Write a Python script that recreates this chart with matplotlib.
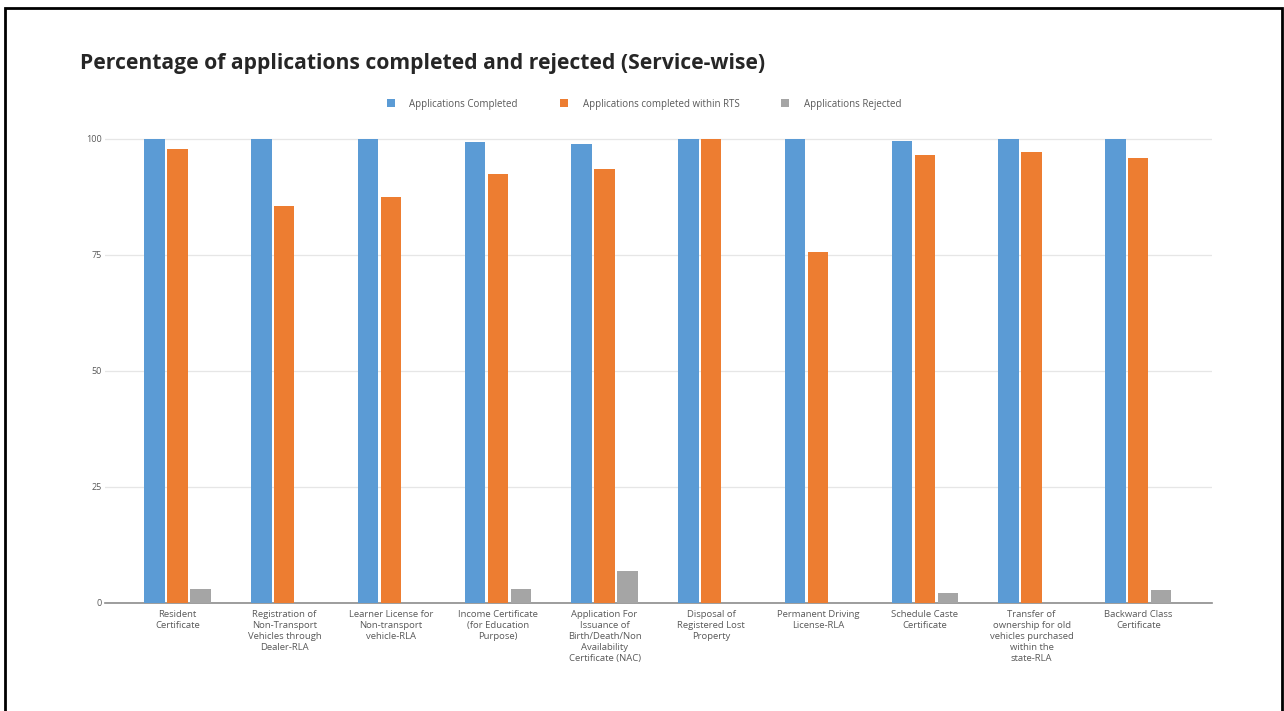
import numpy as np
import matplotlib
matplotlib.use('Agg')
from matplotlib import pyplot as plt
from matplotlib.patches import Rectangle


services = [
    'Resident\nCertificate',
    'Registration of\nNon-Transport\nVehicles through\nDealer-RLA',
    'Learner License for\nNon-transport\nvehicle-RLA',
    'Income Certificate\n(for Education\nPurpose)',
    'Application For\nIssuance of\nBirth/Death/Non\nAvailability\nCertificate (NAC)',
    'Disposal of\nRegistered Lost\nProperty',
    'Permanent Driving\nLicense-RLA',
    'Schedule Caste\nCertificate',
    'Transfer of\nownership for old\nvehicles purchased\nwithin the\nstate-RLA',
    'Backward Class\nCertificate',
]
completed = [100, 100, 100, 99.3, 99.0, 100, 100, 99.5, 100, 100]
within_rts = [97.8, 85.6, 87.4, 92.4, 93.6, 100, 75.6, 96.6, 97.1, 95.9]
rejected = [3.1, 0, 0, 3.1, 6.9, 0, 0, 2.2, 0, 2.7]
series_names = ['Applications Completed', 'Applications completed within RTS',
                'Applications Rejected']
yticks = [0, 25, 50, 75, 100]

colors = ['#5b9bd5', '#ed7d31', '#a5a5a5']

plt.rcParams['font.family'] = ['Open Sans', 'DejaVu Sans']

fig = plt.figure(figsize=(12.84, 7.11), dpi=100)
ax = fig.add_axes([105 / 1284, 1 - 603 / 711, (1212 - 105) / 1284, (603 - 125) / 711])

x = np.arange(len(services))
w = 0.19
off = 0.215
for i, vals in enumerate((completed, within_rts, rejected)):
    ax.bar(x + (i - 1) * off, vals, width=w, color=colors[i], label=series_names[i], zorder=3)

ax.set_xlim(-0.68, len(services) - 1 + 0.69)
ax.set_ylim(0, 100 * (603 - 125) / (603 - 139))
ax.set_yticks(yticks)
ax.set_yticklabels([str(t) for t in yticks], fontsize=6.5, color='#595959')
ax.set_xticks(x)
ax.set_xticklabels(services, fontsize=6.8, color='#595959', linespacing=1.3)
ax.tick_params(axis='both', length=0, pad=5)
ax.tick_params(axis='y', pad=2)
ax.grid(axis='y', color='#e6e6e6', linewidth=0.9, zorder=0)
for s in ('top', 'right', 'left'):
    ax.spines[s].set_visible(False)
ax.spines['bottom'].set_color('#8c8c8c')
ax.spines['bottom'].set_linewidth(1.2)

fig.text(80 / 1284, 1 - 63 / 711, 'Percentage of applications completed and rejected (Service-wise)',
         fontsize=15.2, fontweight='bold', color='#262626', va='center', ha='left')

leg = fig.legend(loc='center', bbox_to_anchor=(644 / 1284, 1 - 104 / 711), ncol=3,
                 frameon=False, fontsize=7.0, handlelength=0.85, handleheight=0.85,
                 columnspacing=4.3, handletextpad=1.5)
for t in leg.get_texts():
    t.set_color('#595959')

# outer frame around the picture
fig.patches.append(Rectangle((5 / 1284, -0.05), (1282 - 5) / 1284, 1 - 8 / 711 + 0.05,
                             transform=fig.transFigure, fill=False, edgecolor='black',
                             linewidth=2, zorder=10))

fig.savefig('out.png', dpi=100)
